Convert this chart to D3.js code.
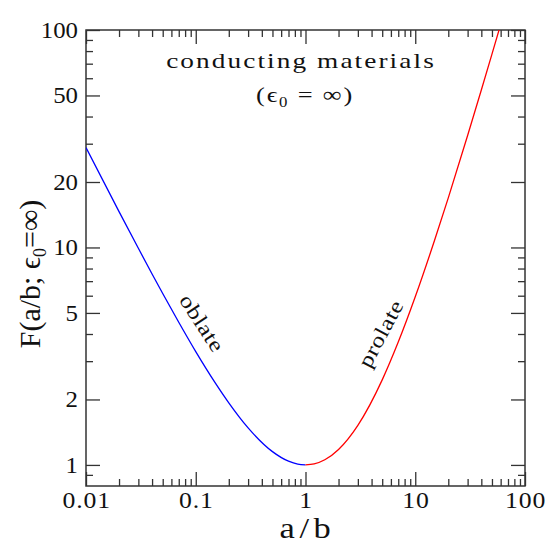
<!DOCTYPE html>
<html>
<head>
<meta charset="utf-8">
<script src="https://cdn.jsdelivr.net/npm/d3@7"></script>
<style>
  body { margin: 0; background: #fff; }
  text { font-family: "Liberation Serif", "DejaVu Serif", serif; fill: #111; }
</style>
</head>
<body>
<svg id="chart" width="554" height="554"></svg>
<script>
// values
var oblateRatio = [0.01, 0.02, 0.03, 0.04, 0.05, 0.07, 0.1, 0.15, 0.2, 0.3, 0.5, 0.7, 0.85, 1]
var oblateF = [28.77, 14.62, 9.91, 7.55, 6.14, 4.53, 3.32, 2.39, 1.93, 1.48, 1.151, 1.040, 1.008, 1]
var prolateRatio = [1, 1.2, 1.5, 2, 3, 5, 7, 10, 15, 20, 30, 40, 50, 60]
var prolateF = [1, 1.011, 1.056, 1.178, 1.521, 2.461, 3.671, 5.93, 10.79, 16.91, 32.71, 52.96, 77.44, 106.0]
var xTicks = [0.01, 0.1, 1, 10, 100]
var yTicks = [1, 2, 5, 10, 20, 50, 100]

var margin = { left: 86, right: 29, top: 30, bottom: 68 }
var width = 554 - margin.left - margin.right
var height = 554 - margin.top - margin.bottom

var svg = d3.select("#chart")
var g = svg.append("g")
  .attr("transform", "translate(" + margin.left + "," + margin.top + ")")

var x = d3.scaleLog().domain([0.01, 100]).range([0, width])
var y = d3.scaleLog().domain([0.8, 100]).range([height, 0])

g.append("clipPath").attr("id", "clip")
  .append("rect").attr("width", width).attr("height", height)

// minor tick values
var xMinor = []
for (var e = -2; e < 2; e++) {
  for (var k = 2; k <= 9; k++) xMinor.push(k * Math.pow(10, e))
}
var yMinor = [0.9]
for (var e2 = 0; e2 < 2; e2++) {
  for (var k2 = 2; k2 <= 9; k2++) {
    if (k2 !== 2 && k2 !== 5) yMinor.push(k2 * Math.pow(10, e2))
  }
}

function styleAxis(sel) {
  sel.select(".domain").remove()
  sel.selectAll("line").attr("stroke", "#333").attr("stroke-width", 1.3)
}

// bottom / top
g.append("g").attr("transform", "translate(0," + height + ")")
  .call(d3.axisTop(x).tickValues(xMinor).tickSize(7).tickFormat("")).call(styleAxis)
g.append("g").attr("transform", "translate(0," + height + ")")
  .call(d3.axisTop(x).tickValues(xTicks).tickSize(14).tickFormat("")).call(styleAxis)
g.append("g")
  .call(d3.axisBottom(x).tickValues(xMinor).tickSize(7).tickFormat("")).call(styleAxis)
g.append("g")
  .call(d3.axisBottom(x).tickValues(xTicks).tickSize(14).tickFormat("")).call(styleAxis)

// left / right
g.append("g")
  .call(d3.axisRight(y).tickValues(yMinor).tickSize(7).tickFormat("")).call(styleAxis)
g.append("g")
  .call(d3.axisRight(y).tickValues(yTicks).tickSize(14).tickFormat("")).call(styleAxis)
g.append("g").attr("transform", "translate(" + width + ",0)")
  .call(d3.axisLeft(y).tickValues(yMinor).tickSize(7).tickFormat("")).call(styleAxis)
g.append("g").attr("transform", "translate(" + width + ",0)")
  .call(d3.axisLeft(y).tickValues(yTicks).tickSize(14).tickFormat("")).call(styleAxis)

g.append("rect")
  .attr("width", width).attr("height", height)
  .attr("fill", "none").attr("stroke", "#333").attr("stroke-width", 1.5)

// tick labels
g.selectAll(".xlab").data(xTicks).enter().append("text")
  .attr("transform", function(d) { return "translate(" + (x(d) + 0.7) + "," + (height + 22) + ") scale(1.12,1)" })
  .attr("text-anchor", "middle")
  .attr("font-size", 23)
  .attr("letter-spacing", 0.8)
  .text(function(d) { return d })
g.selectAll(".ylab").data(yTicks).enter().append("text")
  .attr("transform", function(d) { return "translate(-8," + (y(d) + 8) + ") scale(1.08,1)" })
  .attr("text-anchor", "end")
  .attr("font-size", 23)
  .text(function(d) { return d })

// curves
var line = d3.line()
  .x(function(d) { return x(d[0]) })
  .y(function(d) { return y(d[1]) })
  .curve(d3.curveMonotoneX)

g.append("path")
  .datum(oblateRatio.map(function(r, i) { return [r, oblateF[i]] }))
  .attr("d", line)
  .attr("clip-path", "url(#clip)")
  .attr("fill", "none").attr("stroke", "#0000ff").attr("stroke-width", 1.3)
g.append("path")
  .datum(prolateRatio.map(function(r, i) { return [r, prolateF[i]] }))
  .attr("d", line)
  .attr("clip-path", "url(#clip)")
  .attr("fill", "none").attr("stroke", "#ff0000").attr("stroke-width", 1.3)

// annotations (glyphs stretched a little, like the plotting font of the original)
g.append("text")
  .attr("transform", "translate(215,38) scale(1.3,1)")
  .attr("text-anchor", "middle").attr("font-size", 21)
  .attr("letter-spacing", 1.6)
  .text("conducting materials")
var eps = g.append("text")
  .attr("transform", "translate(219,72) scale(1.2,1)")
  .attr("text-anchor", "middle").attr("font-size", 22)
  .attr("letter-spacing", 1.5)
eps.append("tspan").text("(ϵ")
eps.append("tspan").attr("font-size", 14).attr("dy", 5).text("0")
eps.append("tspan").attr("dy", -5).text(" = ∞)")

g.append("text")
  .attr("transform", "translate(110,297) rotate(57) scale(1.2,1)")
  .attr("text-anchor", "middle").attr("font-size", 21)
  .attr("letter-spacing", 0.4)
  .text("oblate")
g.append("text")
  .attr("transform", "translate(301,307) rotate(-62) scale(1.2,1)")
  .attr("text-anchor", "middle").attr("font-size", 21)
  .attr("letter-spacing", 0.4)
  .text("prolate")

// axis titles
svg.append("text")
  .attr("transform", "translate(" + (margin.left + x(1) + 2) + ",538) scale(1.15,1)")
  .attr("text-anchor", "middle").attr("font-size", 30)
  .attr("letter-spacing", 4)
  .text("a/b")
var yl = svg.append("text")
  .attr("transform", "translate(40,274) rotate(-90)")
  .attr("text-anchor", "middle").attr("font-size", 30)
yl.append("tspan").text("F(a/b; ϵ")
yl.append("tspan").attr("font-size", 18).attr("dy", 6).text("0")
yl.append("tspan").attr("dy", -6).text("=∞)")
</script>
</body>
</html>
